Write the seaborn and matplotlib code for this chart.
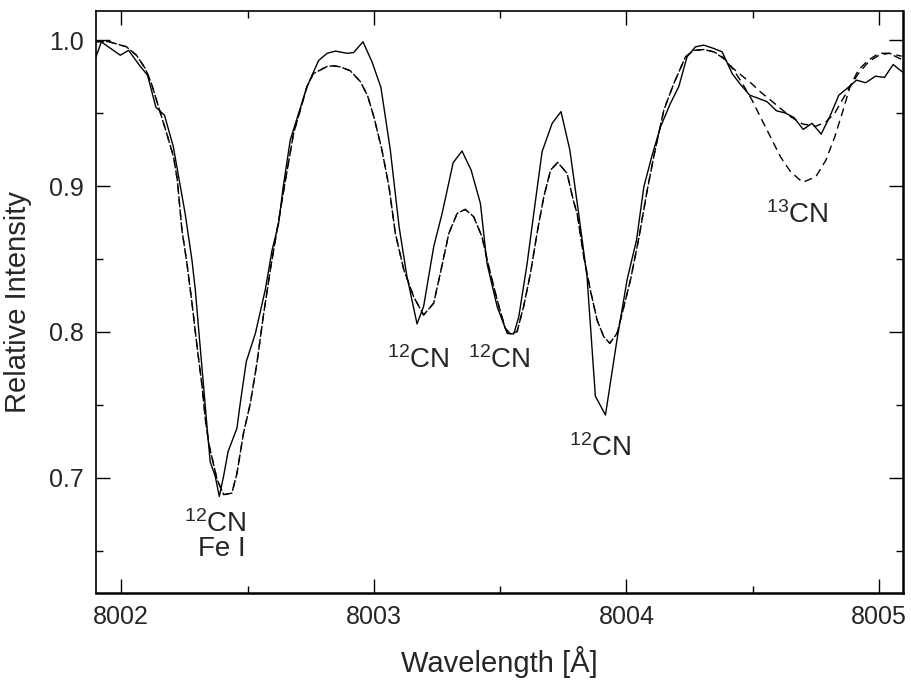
import numpy as np
import pandas as pd
import matplotlib
matplotlib.use("Agg")
import matplotlib.pyplot as plt
import seaborn as sns

# observed spectrum (solid)
obs_wave = [8001.900, 8001.921, 8001.996, 8002.029, 8002.071, 8002.104, 8002.137, 8002.171,
            8002.206, 8002.253, 8002.280, 8002.293, 8002.310, 8002.326, 8002.337, 8002.352,
            8002.372, 8002.388, 8002.405, 8002.423, 8002.458, 8002.471, 8002.495, 8002.531,
            8002.570, 8002.597, 8002.623, 8002.640, 8002.669, 8002.735, 8002.781, 8002.815,
            8002.848, 8002.894, 8002.920, 8002.957, 8002.993, 8003.028, 8003.065, 8003.100,
            8003.131, 8003.171, 8003.197, 8003.237, 8003.270, 8003.314, 8003.349, 8003.385,
            8003.422, 8003.448, 8003.488, 8003.528, 8003.554, 8003.574, 8003.607, 8003.633,
            8003.666, 8003.706, 8003.741, 8003.776, 8003.811, 8003.844, 8003.877, 8003.917,
            8003.963, 8004.003, 8004.040, 8004.069, 8004.100, 8004.135, 8004.174, 8004.207,
            8004.240, 8004.273, 8004.306, 8004.346, 8004.379, 8004.419, 8004.450, 8004.488,
            8004.524, 8004.557, 8004.594, 8004.630, 8004.663, 8004.700, 8004.735, 8004.771,
            8004.805, 8004.841, 8004.874, 8004.911, 8004.947, 8004.986, 8005.022, 8005.056,
            8005.092]
obs_flux = [0.9886, 0.9988, 0.9897, 0.9930, 0.9830, 0.9760, 0.9540, 0.9486,
            0.9270, 0.8810, 0.8490, 0.8290, 0.7945, 0.7626, 0.7400, 0.7110,
            0.7010, 0.6872, 0.7010, 0.7180, 0.7340, 0.7510, 0.7797, 0.7990,
            0.8288, 0.8560, 0.8744, 0.8980, 0.9315, 0.9680, 0.9860, 0.9910,
            0.9925, 0.9910, 0.9915, 0.9989, 0.9850, 0.9676, 0.9250, 0.8720,
            0.8380, 0.8055, 0.8174, 0.8584, 0.8810, 0.9160, 0.9240, 0.9110,
            0.8880, 0.8470, 0.8174, 0.7990, 0.7986, 0.8105, 0.8470, 0.8810,
            0.9235, 0.9430, 0.9510, 0.9247, 0.8810, 0.8380, 0.7560, 0.7430,
            0.7950, 0.8360, 0.8630, 0.8995, 0.9200, 0.9406, 0.9566, 0.9680,
            0.9886, 0.9954, 0.9966, 0.9943, 0.9920, 0.9770, 0.9700, 0.9623,
            0.9600, 0.9578, 0.9516, 0.9500, 0.9470, 0.9388, 0.9430, 0.9356,
            0.9475, 0.9623, 0.9670, 0.9726, 0.9708, 0.9753, 0.9745, 0.9833,
            0.9783]

# synthetic spectra, common part (12CN and Fe I lines)
syn_wave = [8001.900, 8001.950, 8002.020, 8002.060, 8002.095, 8002.120, 8002.148, 8002.180,
            8002.207, 8002.222, 8002.240, 8002.260, 8002.280, 8002.300, 8002.320, 8002.333,
            8002.346, 8002.379, 8002.405, 8002.438, 8002.458, 8002.484, 8002.511, 8002.537,
            8002.564, 8002.590, 8002.617, 8002.643, 8002.682, 8002.735, 8002.760, 8002.815,
            8002.840, 8002.867, 8002.907, 8002.947, 8002.975, 8003.000, 8003.032, 8003.060,
            8003.085, 8003.118, 8003.158, 8003.197, 8003.237, 8003.263, 8003.297, 8003.330,
            8003.362, 8003.395, 8003.428, 8003.455, 8003.488, 8003.520, 8003.540, 8003.567,
            8003.593, 8003.620, 8003.646, 8003.673, 8003.700, 8003.728, 8003.765, 8003.790,
            8003.805, 8003.831, 8003.857, 8003.884, 8003.910, 8003.934, 8003.963, 8003.990,
            8004.016, 8004.050, 8004.080, 8004.108, 8004.148, 8004.187, 8004.234, 8004.267,
            8004.306, 8004.346]
syn_flux = [0.9990, 0.9990, 0.9955, 0.9897, 0.9806, 0.9700, 0.9540, 0.9360,
            0.9200, 0.9040, 0.8700, 0.8470, 0.8197, 0.7900, 0.7626, 0.7400,
            0.7237, 0.6990, 0.6884, 0.6895, 0.7030, 0.7306, 0.7510, 0.7786,
            0.8128, 0.8425, 0.8700, 0.8970, 0.9360, 0.9680, 0.9770, 0.9820,
            0.9824, 0.9817, 0.9790, 0.9715, 0.9620, 0.9475, 0.9247, 0.8995,
            0.8676, 0.8430, 0.8240, 0.8116, 0.8197, 0.8400, 0.8676, 0.8813,
            0.8840, 0.8790, 0.8653, 0.8447, 0.8220, 0.8025, 0.7986, 0.8002,
            0.8174, 0.8400, 0.8676, 0.8927, 0.9110, 0.9162, 0.9087, 0.8900,
            0.8810, 0.8516, 0.8288, 0.8080, 0.7968, 0.7922, 0.7990, 0.8174,
            0.8356, 0.8650, 0.8950, 0.9200, 0.9520, 0.9700, 0.9886, 0.9930,
            0.9936, 0.9920]

# 13CN region, two isotopic ratios
c13_wave = [8004.385, 8004.420, 8004.455, 8004.497, 8004.530, 8004.570, 8004.610, 8004.650,
            8004.698, 8004.750, 8004.790, 8004.825, 8004.858, 8004.885, 8004.918, 8004.958,
            8005.000, 8005.040, 8005.090]
c13_high = [0.9880, 0.9810, 0.9760, 0.9700, 0.9646, 0.9590, 0.9532, 0.9475,
            0.9425, 0.9410, 0.9440, 0.9500, 0.9600, 0.9680, 0.9770, 0.9850,
            0.9897, 0.9910, 0.9890]
c13_low = [0.9874, 0.9806, 0.9715, 0.9590, 0.9475, 0.9338, 0.9200, 0.9098,
           0.9025, 0.9064, 0.9178, 0.9338, 0.9520, 0.9680, 0.9795, 0.9863,
           0.9910, 0.9910, 0.9868]

labels = [r"$^{12}$CN", "Fe I", r"$^{12}$CN", r"$^{12}$CN", r"$^{12}$CN", r"$^{13}$CN"]
label_x = [8002.372, 8002.400, 8003.176, 8003.497, 8003.897, 8004.677]
label_y = [0.6685, 0.651, 0.781, 0.781, 0.7205, 0.880]

sns.set_theme(style="ticks")
plt.rcParams["font.family"] = ["Liberation Sans", "DejaVu Sans"]
plt.rcParams["mathtext.fontset"] = "custom"
plt.rcParams["mathtext.rm"] = "Liberation Sans"
plt.rcParams["mathtext.it"] = "Liberation Sans:italic"
plt.rcParams["lines.scale_dashes"] = False

obs = pd.DataFrame({"wave": obs_wave, "flux": obs_flux})
syn_hi = pd.DataFrame({"wave": syn_wave + c13_wave, "flux": syn_flux + c13_high})
syn_lo = pd.DataFrame({"wave": syn_wave + c13_wave, "flux": syn_flux + c13_low})

fig = plt.figure(figsize=(9.11, 6.83), dpi=100)
ax = fig.add_axes([0.1054, 0.1318, 0.8858, 0.8521])

sns.lineplot(data=syn_hi, x="wave", y="flux", ax=ax, color="black", lw=1.0,
             sort=False, estimator=None)
sns.lineplot(data=syn_lo, x="wave", y="flux", ax=ax, color="black", lw=1.0,
             sort=False, estimator=None)
sns.lineplot(data=obs, x="wave", y="flux", ax=ax, color="black", lw=1.0,
             sort=False, estimator=None)
ax.lines[0].set_linestyle((0, (5.8, 3.6)))
ax.lines[1].set_linestyle((2.2, (5.8, 3.6)))

for t, x, y in zip(labels, label_x, label_y):
    ax.text(x, y, t, ha="center", va="center", fontsize=20)

ax.set_xlim(8001.90, 8005.095)
ax.set_ylim(0.621, 1.020)
ax.set_xticks([8002, 8003, 8004, 8005])
ax.set_xticks([8002.5, 8003.5, 8004.5], minor=True)
ax.set_yticks([0.7, 0.8, 0.9, 1.0])
ax.set_yticks([0.65, 0.75, 0.85, 0.95], minor=True)
ax.yaxis.set_major_formatter(matplotlib.ticker.FormatStrFormatter("%.1f"))
ax.tick_params(which="both", direction="in", top=True, right=True, color="black",
               labelsize=18, width=1.0)
ax.tick_params(which="major", length=10, pad=9)
ax.tick_params(which="minor", length=5)
for s in ax.spines.values():
    s.set_color("black")
    s.set_linewidth(1.2)
ax.spines["bottom"].set_linewidth(1.8)
ax.spines["right"].set_linewidth(1.8)

ax.set_xlabel("Wavelength [Å]", fontsize=21, labelpad=12)
ax.set_ylabel("Relative Intensity", fontsize=21, labelpad=12)

fig.savefig("out.png", dpi=100, facecolor="white")
